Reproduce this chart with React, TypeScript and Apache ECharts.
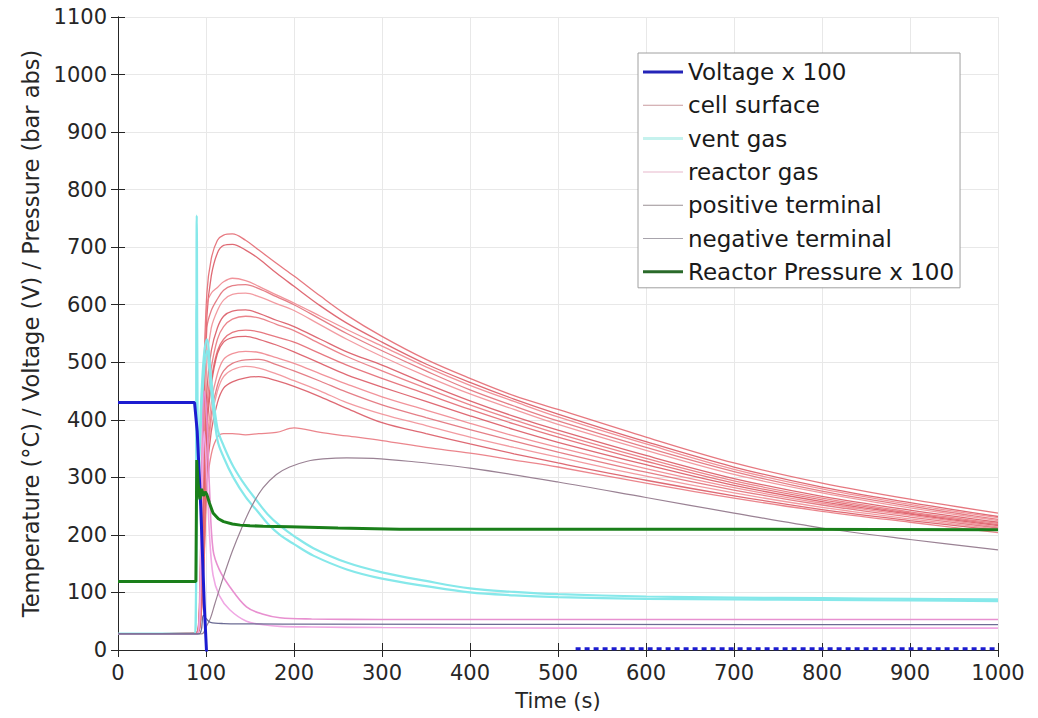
import React, { useEffect, useRef } from "react";
import * as echarts from "echarts";

const FONT = "'DejaVu Sans', Verdana, sans-serif";

// Voltage x 100
const T_VOLT = [0, 87, 90, 94, 98, 100.5, 102];
const VOLTAGE = [430, 430, 380, 250, 80, 0, -30];
const T_VOLT_NOISE = [520, 1000];
const VOLTAGE_NOISE = [2, 2];

// Reactor pressure x 100
const T_PRESS = [0, 88.5, 89.5, 91, 93, 95, 97, 99, 101, 104, 108, 114, 120, 130, 139, 150, 165, 195, 250, 320, 500, 700, 1000];
const PRESSURE = [119, 119, 330, 290, 262, 280, 268, 275, 270, 255, 238, 228, 223, 219, 217, 216, 215, 214, 212, 210, 210, 210, 209];

// Cell surface temperatures
const T_CELL = [0, 89, 93, 97, 101, 106, 113, 120, 130, 145, 160, 180, 200, 230, 260, 300, 350, 400, 450, 500, 600, 700, 800, 900, 1000];
const CELL_SURFACE = [
  [28, 30, 120, 450, 620, 680, 712, 721, 723, 712, 695, 672, 650, 615, 582, 545, 505, 472, 442, 418, 370, 325, 290, 262, 238],
  [28, 30, 100, 400, 580, 650, 690, 703, 705, 695, 680, 655, 632, 598, 568, 535, 497, 465, 436, 410, 362, 318, 283, 256, 232],
  [28, 30, 90, 380, 600, 620, 630, 640, 646, 642, 632, 617, 603, 580, 557, 528, 492, 460, 432, 405, 358, 314, 280, 253, 230],
  [28, 30, 80, 350, 560, 590, 610, 625, 633, 635, 628, 614, 600, 575, 550, 520, 485, 452, 424, 398, 352, 310, 276, 250, 227],
  [28, 30, 70, 300, 500, 560, 590, 608, 618, 620, 614, 602, 590, 565, 540, 510, 476, 445, 418, 392, 347, 305, 273, 247, 225],
  [28, 29, 60, 250, 450, 520, 560, 580, 589, 591, 585, 573, 562, 540, 518, 495, 463, 433, 406, 382, 338, 298, 267, 243, 222],
  [28, 29, 55, 220, 420, 490, 540, 562, 575, 580, 577, 566, 555, 532, 510, 485, 455, 426, 400, 376, 333, 294, 264, 240, 220],
  [28, 29, 50, 200, 400, 470, 520, 540, 552, 556, 553, 544, 535, 515, 495, 472, 445, 418, 393, 370, 328, 290, 261, 238, 218],
  [28, 29, 50, 180, 380, 460, 515, 535, 543, 545, 540, 530, 518, 498, 478, 457, 432, 407, 383, 361, 322, 286, 258, 236, 216],
  [28, 29, 45, 160, 350, 430, 480, 505, 515, 519, 517, 508, 498, 480, 462, 440, 417, 394, 372, 352, 315, 282, 255, 234, 214],
  [28, 29, 45, 150, 330, 410, 460, 485, 498, 504, 505, 496, 485, 467, 448, 426, 404, 383, 363, 344, 309, 278, 252, 231, 212],
  [28, 29, 40, 140, 320, 400, 450, 475, 487, 493, 490, 480, 468, 450, 430, 410, 390, 370, 352, 335, 302, 273, 248, 228, 210],
  [28, 29, 40, 130, 300, 380, 430, 455, 466, 473, 475, 468, 458, 440, 420, 395, 376, 358, 341, 325, 295, 268, 244, 225, 208],
  [28, 29, 40, 120, 280, 340, 370, 376, 376, 374, 376, 378, 386, 378, 372, 364, 352, 342, 330, 318, 290, 264, 241, 222, 204],
];
const CELL_COLORS = ["#e2606a", "#d9505c", "#ee8088", "#e06872", "#f08a90", "#d8505c", "#e87078"];

// Vent gas
const T_VENT = [0, 88, 89.5, 91, 93, 97, 101, 106, 113, 120, 131, 145, 158, 170, 184, 200, 222, 260, 300, 350, 400, 450, 500, 600, 700, 800, 900, 1000];
const VENT_GAS = [
  [28, 28, 755, 300, 380, 500, 540, 470, 385, 355, 319, 285, 259, 236, 216, 198, 177, 152, 135, 120, 107, 101, 97, 93, 91, 90, 89, 88],
  [28, 28, 600, 280, 350, 470, 520, 450, 365, 335, 300, 266, 242, 220, 200, 184, 164, 140, 124, 111, 100, 95, 92, 89, 88, 87, 86, 85],
];

// Reactor gas
const T_RGAS = [0, 90, 95, 98, 101, 104, 108, 115, 127, 146, 165, 184, 220, 300, 500, 1000];
const REACTOR_GAS = [
  [28, 28, 300, 450, 400, 280, 174, 140, 110, 75, 62, 56, 54, 53, 53, 53],
  [28, 28, 250, 380, 300, 200, 130, 95, 70, 50, 44, 41, 40, 39, 38, 38],
];

// Terminals
const T_POS = [0, 95, 100, 105, 110, 120, 130, 140, 152, 165, 180, 195, 215, 233, 260, 290, 330, 400, 500, 600, 700, 800, 900, 1000];
const POS_TERMINAL = [28, 28, 40, 55, 80, 128, 172, 210, 250, 282, 305, 318, 328, 332, 334, 333, 328, 316, 292, 265, 238, 212, 192, 174];
const T_NEG = [0, 92, 97, 100, 105, 120, 200, 1000];
const NEG_TERMINAL = [28, 28, 60, 55, 48, 46, 45, 44];

const LEGEND_NAMES = ["Voltage x 100", "cell surface", "vent gas", "reactor gas", "positive terminal", "negative terminal", "Reactor Pressure x 100"];
const LEGEND_THICK = [3, 1, 3, 1, 1, 1, 3];

const pairs = (t: number[], v: number[]) => t.map((x, i) => [x, v[i]]);

export default function App() {
  const ref = useRef<HTMLDivElement>(null);
  useEffect(() => {
    const chart = echarts.init(ref.current!, null, { renderer: "svg" });
    const base = { type: "line", symbol: "none", showSymbol: false, animation: false, xAxisIndex: 0, yAxisIndex: 0 };
    const sm = { smooth: 0.35 };
    const series: any[] = [];
    series.push({ ...base, name: "Voltage x 100", data: pairs(T_VOLT, VOLTAGE), lineStyle: { color: "#1c1cd0", width: 3 }, itemStyle: { color: "#2424b8" }, z: 5 });
    CELL_SURFACE.forEach((v, i) => {
      const c = CELL_COLORS[i % CELL_COLORS.length];
      series.push({ ...base, ...sm, name: "cell surface", data: pairs(T_CELL, v), lineStyle: { color: c, width: 1.3, opacity: 0.85 }, itemStyle: { color: "#c89a9e" }, z: 2 });
    });
    VENT_GAS.forEach((v) => {
      series.push({ ...base, ...sm, name: "vent gas", data: pairs(T_VENT, v), lineStyle: { color: "#86e8ea", width: 2.2 }, itemStyle: { color: "#c6f2ee" }, z: 3 });
    });
    REACTOR_GAS.forEach((v, i) => {
      const c = i === 0 ? "#e890d0" : "#f0a8e4";
      series.push({ ...base, ...sm, name: "reactor gas", data: pairs(T_RGAS, v), lineStyle: { color: c, width: 1.6 }, itemStyle: { color: "#e8b8cc" }, z: 3 });
    });
    series.push({ ...base, ...sm, name: "positive terminal", data: pairs(T_POS, POS_TERMINAL), lineStyle: { color: "#9a8294", width: 1.2 }, itemStyle: { color: "#9a9094" }, z: 3 });
    series.push({ ...base, ...sm, name: "negative terminal", data: pairs(T_NEG, NEG_TERMINAL), lineStyle: { color: "#6c6c94", width: 1.3 }, itemStyle: { color: "#a8a4ac" }, z: 4 });
    series.push({ ...base, name: "Reactor Pressure x 100", data: pairs(T_PRESS, PRESSURE), lineStyle: { color: "#1a7f1a", width: 3 }, itemStyle: { color: "#2a6a2a" }, z: 6 });
    series.push({ ...base, name: "Voltage x 100", data: pairs(T_VOLT_NOISE, VOLTAGE_NOISE), lineStyle: { color: "#1c1cd0", width: 3, type: [5, 4] }, itemStyle: { color: "#2424b8" }, z: 5 });

    const axisLabel = { fontSize: 21, color: "#262626", fontFamily: FONT, formatter: (v: number) => String(v) };
    const axisLine = { show: true, lineStyle: { color: "#262626", width: 1 } };
    const split = { show: true, lineStyle: { color: "#e8e8e8", width: 1 } };
    const tick = { show: true, inside: true, length: 7, lineStyle: { color: "#262626" } };

    chart.setOption({
      animation: false,
      backgroundColor: "#ffffff",
      grid: { left: 118, right: 40, top: 17, bottom: 68, containLabel: false },
      xAxis: [
        {
          type: "value", min: 0, max: 1000, interval: 100, position: "bottom",
          name: "Time (s)", nameLocation: "middle", nameGap: 40,
          nameTextStyle: { fontSize: 21, color: "#262626", fontFamily: FONT },
          axisLine, axisTick: tick, axisLabel: { ...axisLabel, margin: 12 }, splitLine: split,
        },
        {
          type: "value", min: 0, max: 1000, interval: 100, position: "top",
          axisLine, axisTick: tick, axisLabel: { show: false }, splitLine: { show: false },
        },
      ],
      yAxis: [
        {
          type: "value", min: 0, max: 1100, interval: 100, position: "left",
          name: "Temperature (°C) / Voltage (V) / Pressure (bar abs)", nameLocation: "middle", nameGap: 67, nameRotate: 90,
          nameTextStyle: { fontSize: 22.5, color: "#262626", fontFamily: FONT },
          axisLine, axisTick: tick, axisLabel: { ...axisLabel, margin: 11 }, splitLine: split,
        },
        {
          type: "value", min: 0, max: 1100, interval: 100, position: "right",
          axisLine, axisTick: tick, axisLabel: { show: false }, splitLine: { show: false },
        },
      ],
      legend: {
        orient: "vertical", left: 638, top: 53,
        backgroundColor: "#ffffff", borderColor: "#a0a0a0", borderWidth: 1,
        padding: [6, 6, 3, 5], itemWidth: 40, itemHeight: 14, itemGap: 7.3,
        symbolKeepAspect: true,
        textStyle: { fontSize: 23, color: "#1a1a1a", fontFamily: FONT, lineHeight: 26 },
        data: LEGEND_NAMES.map((n, i) => ({ name: n, icon: `path://M0,0L40,0L40,${LEGEND_THICK[i]}L0,${LEGEND_THICK[i]}Z` })),
        selectedMode: false,
      },
      series,
    });
    return () => chart.dispose();
  }, []);
  return <div ref={ref} style={{ position: "fixed", left: 0, top: 0, width: 1038, height: 718 }} />;
}
